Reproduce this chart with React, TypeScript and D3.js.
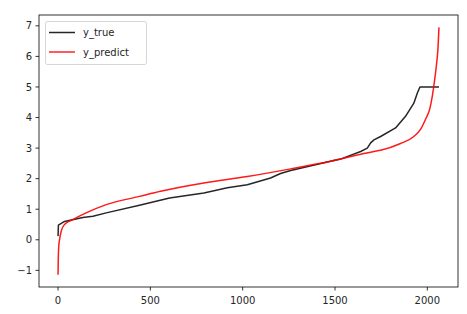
import React from "react";
import * as d3 from "d3";

const trueIdx = [0, 2, 35, 134, 189, 261, 441, 604, 790, 917, 1025, 1151, 1205, 1260, 1476, 1530, 1639, 1675, 1693, 1711, 1747, 1828, 1882, 1927, 1946, 1960, 2063];
const trueVal = [0.12, 0.48, 0.6, 0.73, 0.77, 0.88, 1.13, 1.37, 1.53, 1.7, 1.8, 2.02, 2.17, 2.27, 2.57, 2.64, 2.89, 3.0, 3.17, 3.27, 3.38, 3.66, 4.04, 4.47, 4.8, 5.0, 5.0];
const predIdx = [0, 1, 2, 4, 8, 17, 35, 80, 152, 261, 441, 555, 790, 1025, 1260, 1476, 1711, 1747, 1855, 1927, 1964, 1991, 2014, 2027, 2039, 2050, 2057, 2063];
const predVal = [-1.14, -0.7, -0.45, -0.2, 0.0, 0.28, 0.5, 0.66, 0.88, 1.15, 1.42, 1.59, 1.86, 2.07, 2.32, 2.57, 2.89, 2.93, 3.15, 3.38, 3.62, 3.95, 4.3, 4.7, 5.2, 5.75, 6.2, 6.95];

const xTicks = [0, 500, 1000, 1500, 2000];
const yTicks = [-1, 0, 1, 2, 3, 4, 5, 6, 7];
const seriesNames = ["y_true", "y_predict"];
const seriesColors = ["#000000", "#ff0000"];

export default function App() {
  const W = 467, H = 314;
  const L = 39, R = 458, T = 15, B = 287;
  const n = 2063;
  const x = d3.scaleLinear().domain([-0.05 * n, 1.05 * n]).range([L, R]);
  const ymin = -1.14, ymax = 6.95, m = (ymax - ymin) * 0.05;
  const y = d3.scaleLinear().domain([ymin - m, ymax + m]).range([B, T]);
  const lineT = d3.line<[number, number]>().x(d => x(d[0])).y(d => y(d[1]));
  const lineP = d3.line<[number, number]>().x(d => x(d[0])).y(d => y(d[1])).curve(d3.curveMonotoneX);
  const tData = trueIdx.map((v, i) => [v, trueVal[i]] as [number, number]);
  const pData = predIdx.map((v, i) => [v, predVal[i]] as [number, number]);
  const font = "DejaVu Sans, sans-serif";
  const fmt = (v: number) => (v < 0 ? "\u2212" + Math.abs(v) : String(v));
  return (
    <svg width={W} height={H} style={{ position: "absolute", left: 0, top: 0 }} fontFamily={font}>
      <rect x={0} y={0} width={W} height={H} fill="#fff" />
      <defs>
        <clipPath id="clip"><rect x={L} y={T} width={R - L} height={B - T} /></clipPath>
      </defs>
      <g clipPath="url(#clip)">
        <path d={lineT(tData) || ""} fill="none" stroke={seriesColors[0]} strokeWidth={1.5} strokeOpacity={0.85} strokeLinejoin="round" />
        <path d={lineP(pData) || ""} fill="none" stroke={seriesColors[1]} strokeWidth={1.5} strokeOpacity={0.9} strokeLinejoin="round" />
      </g>
      <rect x={L} y={T} width={R - L} height={B - T} fill="none" stroke="#000" strokeWidth={0.8} />
      {xTicks.map(t => (
        <g key={"x" + t}>
          <line x1={x(t)} x2={x(t)} y1={B} y2={B + 3.5} stroke="#000" strokeWidth={0.8} />
          <text x={x(t)} y={B + 17} fontSize={10} textAnchor="middle" fill="#262626">{fmt(t)}</text>
        </g>
      ))}
      {yTicks.map(t => (
        <g key={"y" + t}>
          <line x1={L - 3.5} x2={L} y1={y(t)} y2={y(t)} stroke="#000" strokeWidth={0.8} />
          <text x={L - 7} y={y(t) + 3.6} fontSize={10} textAnchor="end" fill="#262626">{fmt(t)}</text>
        </g>
      ))}
      <rect x={45.5} y={21.5} width={101} height={43} rx={2} fill="#fff" fillOpacity={0.8} stroke="#cccccc" strokeWidth={0.8} />
      {seriesNames.map((s, i) => (
        <g key={s}>
          <line x1={49} x2={75} y1={32.5 + i * 19.5} y2={32.5 + i * 19.5} stroke={seriesColors[i]} strokeWidth={1.5} strokeOpacity={0.85} />
          <text x={83} y={36 + i * 19.5} fontSize={10} fill="#262626">{s}</text>
        </g>
      ))}
    </svg>
  );
}
